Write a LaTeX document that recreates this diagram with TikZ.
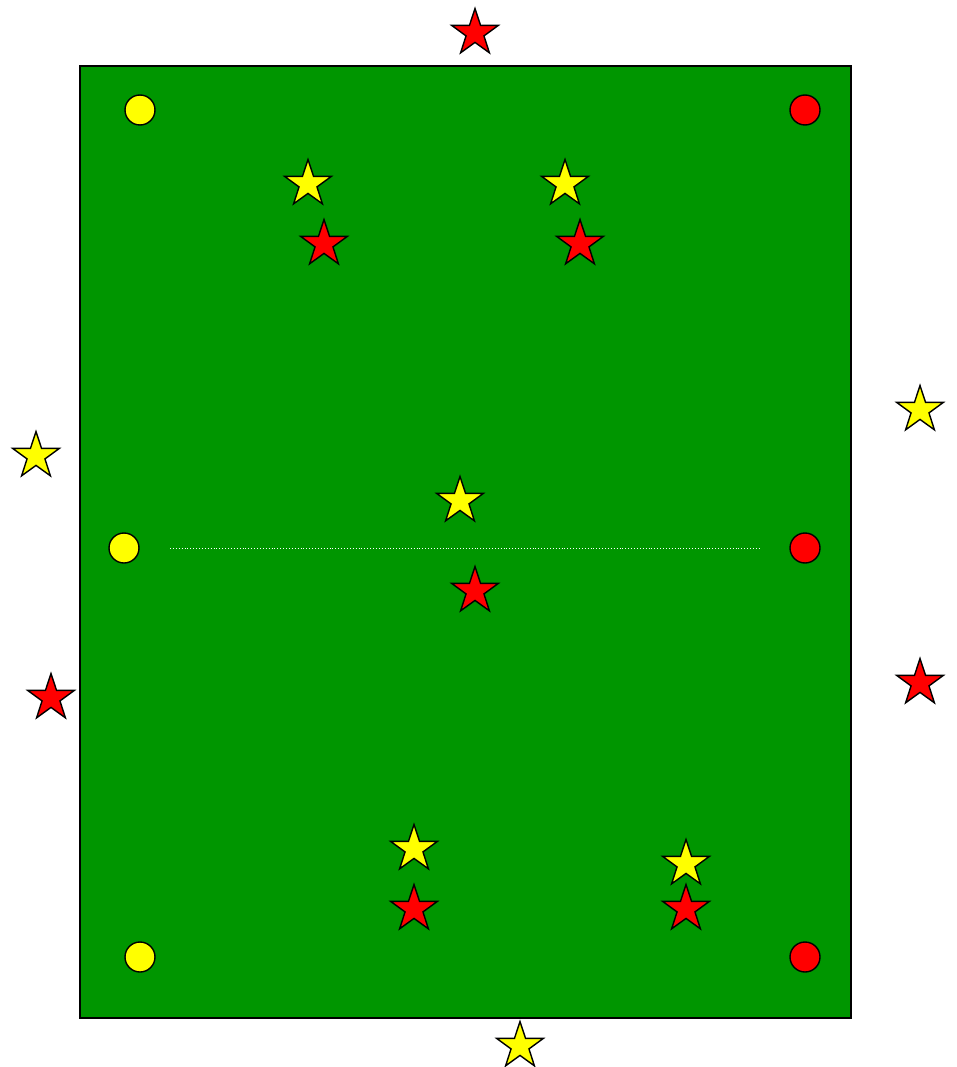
\documentclass[tikz,border=0pt]{standalone}
\usepackage{tikz}
\usetikzlibrary{shapes.geometric}
\definecolor{pitchgreen}{RGB}{0,150,0}
\definecolor{conered}{RGB}{255,0,0}
\definecolor{coneyellow}{RGB}{255,255,0}

\begin{document}
\begin{tikzpicture}[
    x=1pt, y=-1pt,
    pitch/.style={draw=black, line width=1.6pt, fill=pitchgreen},
    cone/.style={circle, draw=black, line width=1.4pt, minimum size=30pt, inner sep=0pt},
    ycone/.style={cone, fill=coneyellow},
    rcone/.style={cone, fill=conered},
    player/.style={star, star points=5, star point ratio=2.6, draw=black, line width=1.4pt, minimum size=49pt, inner sep=0pt},
    ystar/.style={player, fill=coneyellow},
    rstar/.style={player, fill=conered},
    half/.style={white, dotted, line width=0.9pt}
]
\useasboundingbox (0,0) rectangle (956,1067);
\draw[pitch] (80,66) rectangle (851,1018);

% cones
\node[ycone] (ytl) at (140,110) {};
\node[ycone] (yml) at (124,548) {};
\node[ycone] (ybl) at (140,957) {};
\node[rcone] (rtr) at (805,110) {};
\node[rcone] (rmr) at (805,548) {};
\node[rcone] (rbr) at (805,957) {};

% halfway line
\coordinate (hl) at (170,548);
\coordinate (hr) at (760,548);
\draw[half] (hl) -- (hr);

% players
\node[rstar] (rtop)  at (475,33)  {};
\node[ystar] (y1)    at (308,184) {};
\node[rstar] (r1)    at (324,244) {};
\node[ystar] (y2)    at (565,184) {};
\node[rstar] (r2)    at (580,244) {};
\node[ystar] (yright) at (920,410) {};
\node[ystar] (yleft) at (36,456)  {};
\node[ystar] (ymid)  at (460,501) {};
\node[rstar] (rmid)  at (475,591) {};
\node[rstar] (rleft) at (51,698)  {};
\node[rstar] (rright) at (920,683) {};
\node[ystar] (y3)    at (414,849) {};
\node[rstar] (r3)    at (414,909) {};
\node[ystar] (y4)    at (686,864) {};
\node[rstar] (r4)    at (686,909) {};
\node[ystar] (ybot)  at (520,1046) {};
\end{tikzpicture}
\end{document}
